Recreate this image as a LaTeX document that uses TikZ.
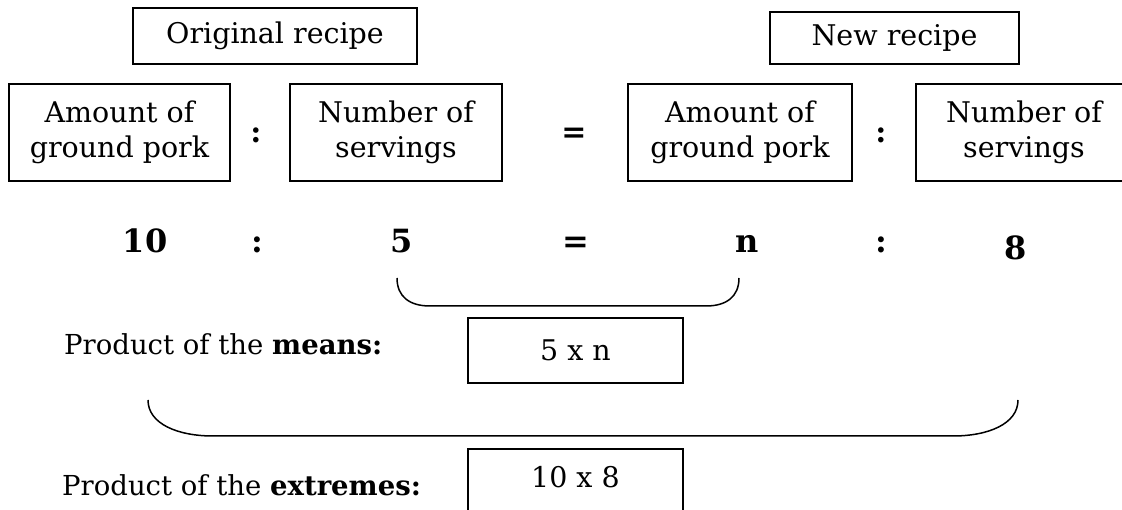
\documentclass[tikz,border=0pt]{standalone}
\usepackage{fontspec}
\setmainfont{DejaVu Serif}
\begin{document}
\begin{tikzpicture}[x=1pt,y=-1pt,
  labelbox/.style={draw, line width=1.7pt, inner sep=0pt, align=center,
    font=\fontsize{28.5}{35}\selectfont},
  sym/.style={inner sep=0pt, font=\bfseries\fontsize{30}{30}\selectfont},
  term/.style={inner sep=0pt, anchor=base, font=\bfseries\fontsize{32}{32}\selectfont},
  caption/.style={inner sep=0pt, anchor=base west, font=\fontsize{27.5}{30}\selectfont},
  brace/.style={line width=1.5pt}]
\useasboundingbox (0,0) rectangle (1122,510);
\clip (0,0) rectangle (1122,510);

% headings
\node[labelbox, minimum width=284, minimum height=56] (orig) at (275,36) {Original recipe};
\node[labelbox, minimum width=249, minimum height=52] (new) at (894.5,38) {New recipe};

% the four quantities of the proportion
\node[labelbox, minimum width=221, minimum height=97] (q1) at (119.5,132.5) {Amount of\\ground pork};
\node[labelbox, minimum width=212, minimum height=97] (q2) at (396,132.5) {Number of\\servings};
\node[labelbox, minimum width=224, minimum height=97] (q3) at (740,132.5) {Amount of\\ground pork};
\node[labelbox, minimum width=216, minimum height=97] (q4) at (1024,132.5) {Number of\\servings};
\node[sym] (s1) at (256,135) {:};
\node[sym] (s2) at (574,135) {=};
\node[sym] (s3) at (881,135) {:};

% numeric proportion
\node[term] (t10) at (145,253) {10};
\node[term] (tc1) at (257,253) {:};
\node[term] (t5) at (402,253) {5};
\node[term] (teq) at (576,253) {=};
\node[term] (tn) at (747,253) {n};
\node[term] (tc2) at (881,253) {:};
\node[term] (t8) at (1016,260) {8};

% bracket joining the means
\coordinate (m1) at (397,278);
\coordinate (m2) at (739,278);
\draw[brace] (m1) .. controls (397,297) and (410,306) .. (430,306)
  -- (706,306) .. controls (726,306) and (739,297) .. (m2);

% bracket joining the extremes
\coordinate (e1) at (148,400);
\coordinate (e2) at (1018,400);
\draw[brace] (e1) .. controls (148,424) and (178,436) .. (213,436)
  -- (953,436) .. controls (988,436) and (1018,424) .. (e2);

% products
\node[caption] (pm) at (64,355) {Product of the \textbf{means:}};
\node[labelbox, minimum width=215, minimum height=65] (mean) at (575.5,350.5) {5 x n};
\node[caption] (pe) at (62,495) {Product of the \textbf{extremes:}};
\node[labelbox, minimum width=215, anchor=north, text height=39pt, text depth=40pt] (ext) at (575.5,448) {10 x 8};
\end{tikzpicture}
\end{document}
